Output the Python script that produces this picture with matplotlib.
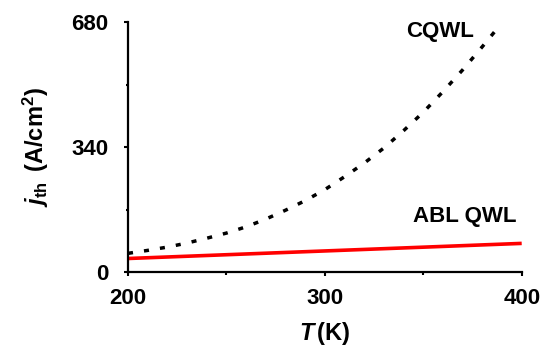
import matplotlib
matplotlib.use("Agg")
import matplotlib.pyplot as plt
from matplotlib.ticker import MultipleLocator

plt.rcParams["font.family"] = ["Liberation Sans", "DejaVu Sans"]
plt.rcParams["font.weight"] = "bold"
plt.rcParams["mathtext.fontset"] = "custom"
plt.rcParams["mathtext.it"] = "Liberation Sans:italic:bold"
plt.rcParams["mathtext.rm"] = "Liberation Sans:bold"
plt.rcParams["mathtext.bf"] = "Liberation Sans:bold"

# Threshold current density vs temperature
T_cqwl = [200, 210, 220, 230, 240, 250, 260, 270, 280, 290,
          300, 310, 320, 330, 340, 350, 360, 370, 380, 388]
j_cqwl = [52, 60, 69, 80, 93, 107, 124, 145, 169, 195,
          225, 260, 297, 338, 385, 435, 491, 550, 613, 665]

T_abl = [200, 400]
j_abl = [38, 79]

x_ticks = [200, 300, 400]
y_ticks = [0, 340, 680]

fig = plt.figure(figsize=(5.48, 3.49), dpi=100)
ax = fig.add_axes([0.2336, 0.2192, 0.7184, 0.7178])

ax.plot(T_cqwl, j_cqwl, color="black", lw=2.5, linestyle=(0, (1.45, 3.2)),
        solid_capstyle="butt", dash_capstyle="butt")
ax.plot(T_abl, j_abl, color="#ff0000", lw=2.6, solid_capstyle="butt")

ax.set_xlim(200, 400)
ax.set_ylim(0, 680)
ax.set_xticks(x_ticks)
ax.set_yticks(y_ticks)
ax.xaxis.set_minor_locator(MultipleLocator(50))
ax.yaxis.set_minor_locator(MultipleLocator(170))

for s in ["top", "right"]:
    ax.spines[s].set_visible(False)
for s in ["left", "bottom"]:
    ax.spines[s].set_linewidth(1.6)

ax.tick_params(which="major", direction="out", length=3, width=1.5,
               labelsize=16)
ax.tick_params(which="minor", direction="out", length=1.8, width=1.5)
ax.tick_params(axis="y", which="major", pad=11)
ax.tick_params(axis="x", which="major", pad=8)

ax.set_xlabel(r"$T\,$(K)", fontsize=17, fontweight="bold", labelpad=8)
ax.set_ylabel(r"$j_{\mathrm{th}}\,$ (A/cm$^{\mathrm{2}}$)", fontsize=17,
              fontweight="bold", labelpad=15)

ax.text(358.5, 654, "CQWL", fontsize=16, fontweight="bold",
        ha="center", va="center")
ax.text(371, 152, "ABL QWL", fontsize=16, fontweight="bold",
        ha="center", va="center")

fig.savefig("out.png", dpi=100)
